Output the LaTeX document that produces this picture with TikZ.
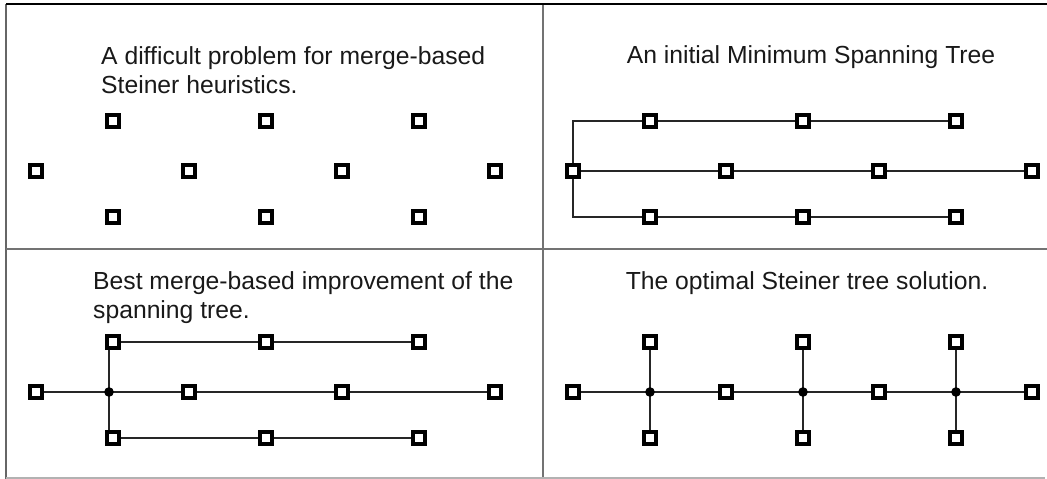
\documentclass[tikz,border=0pt]{standalone}
\usepackage{fontspec}
\setmainfont{Liberation Sans}
\begin{document}
\begin{tikzpicture}[x=1pt,y=1pt,
  term/.style={rectangle,draw=black,fill=white,line width=4.4pt,minimum size=12.2pt,inner sep=0pt},
  steiner/.style={circle,draw=black,fill=black,line width=1pt,minimum size=8.5pt,inner sep=0pt},
  edge/.style={draw=black!85,line width=1.1pt},
  lbl/.style={font=\fontsize{24.7}{29}\selectfont,inner sep=0pt,text=black!90}]
\useasboundingbox (0,0) rectangle (1047,-479);
% frame
\draw[black!60,line width=2pt] (6,-4) -- (6,-479);
\draw[black!55,line width=2pt] (543,-4) -- (543,-479);
\draw[black!55,line width=1.5pt] (6,-249) -- (1047,-249);
\draw[black!30,line width=1.5pt] (6,-478) -- (1045,-478);
\draw[black,line width=1.5pt] (6,-4) -- (1047,-4);
% terminals
\foreach \p/\dx/\dy in {A/0/0,B/537/0,C/0/221,D/537/221}{
  \foreach \i/\x in {1/113,2/266,3/419}{
    \node[term] (\p-t\i) at (\x+\dx,-121-\dy) {};
    \node[term] (\p-b\i) at (\x+\dx,-217-\dy) {};
  }
  \foreach \i/\x in {1/36,2/189,3/342,4/495}{
    \node[term] (\p-m\i) at (\x+\dx,-171-\dy) {};
  }
}
% labels
\node[lbl,anchor=base west] (la1) at (101,-64) {A difficult problem for merge-based};
\node[lbl,anchor=base west] (la2) at (101,-93) {Steiner heuristics.};
\node[lbl,anchor=base] (lb1) at (811,-63) {An initial Minimum Spanning Tree};
\node[lbl,anchor=base west] (lc1) at (93,-289) {Best merge-based improvement of the};
\node[lbl,anchor=base west] (lc2) at (93,-318) {spanning tree.};
\node[lbl,anchor=base] (ld1) at (807,-289) {The optimal Steiner tree solution.};
% B: minimum spanning tree
\draw[edge] (B-m1) -- (B-m2) -- (B-m3) -- (B-m4);
\draw[edge] (B-m1) |- (B-t1);
\draw[edge] (B-t1) -- (B-t2) -- (B-t3);
\draw[edge] (B-m1) |- (B-b1);
\draw[edge] (B-b1) -- (B-b2) -- (B-b3);
% C: merge-based improvement
\coordinate (C-sp) at (109,-392);
\draw[edge] (C-m1) -- (C-m2) -- (C-m3) -- (C-m4);
\draw[edge] (C-sp) -- (C-sp |- C-t1.south);
\draw[edge] (C-sp) -- (C-sp |- C-b1.north);
\draw[edge] (C-t1) -- (C-t2) -- (C-t3);
\draw[edge] (C-b1) -- (C-b2) -- (C-b3);
\node[steiner] (C-s) at (C-sp) {};
% D: optimal Steiner tree
\draw[edge] (D-m1) -- (D-m2) -- (D-m3) -- (D-m4);
\foreach \i in {1,2,3}{
  \draw[edge] (D-t\i) -- (D-b\i);
  \node[steiner] (D-s\i) at (D-t\i |- D-m1) {};
}
\end{tikzpicture}
\end{document}
